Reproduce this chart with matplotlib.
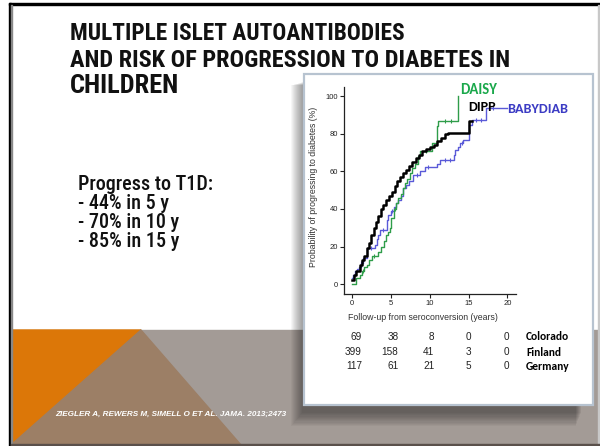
import matplotlib
matplotlib.use('Agg')
import numpy as np
import matplotlib.pyplot as plt
from matplotlib.patches import Rectangle, Polygon
from matplotlib import font_manager

avail = {f.name for f in font_manager.fontManager.ttflist}
def pick(cands):
    for n in cands:
        if n in avail:
            return n
    return 'DejaVu Sans'

NARROW = pick(['Liberation Sans Narrow', 'Roboto Condensed', 'Arial Narrow', 'Liberation Sans'])
SANS = pick(['Liberation Sans', 'Arimo', 'DejaVu Sans'])
CAL = pick(['Carlito', 'Lato', 'Open Sans'])

# ---------------- data ----------------
title_lines = ["MULTIPLE ISLET AUTOANTIBODIES",
               "AND RISK OF PROGRESSION TO DIABETES IN",
               "CHILDREN"]
bullet_lines = ["Progress to T1D:", "- 44% in 5 y", "- 70% in 10 y", "- 85% in 15 y"]
citation = "ZIEGLER A, REWERS M, SIMELL O ET AL. JAMA. 2013;2473"

x_ticks = [0, 5, 10, 15, 20]
y_ticks = [0, 20, 40, 60, 80, 100]
x_label = "Follow-up from seroconversion (years)"
y_label = "Probability of progressing to diabetes (%)"

dipp_t = [0, 0.3, 0.6, 1.0, 1.3, 1.6, 1.9, 2.2, 2.5, 2.8, 3.1, 3.4, 3.7, 4.0, 4.4, 4.8,
          5.2, 5.5, 5.8, 6.2, 6.6, 7.0, 7.4, 7.8, 8.2, 8.6, 9.0, 9.5, 10.0, 10.5, 11.0,
          11.5, 12.0, 12.4, 15.0, 15.5]
dipp_p = [2, 5, 7, 10, 13, 15, 19, 22, 26, 30, 33, 36, 40, 42, 45, 47,
          49, 52, 55, 57, 59, 61, 63, 65, 67, 69, 71, 72, 73, 74, 76,
          78, 80, 80.5, 87, 87]

daisy_t = [0, 0.6, 1.0, 1.3, 1.6, 1.9, 2.2, 2.6, 3.4, 3.8, 4.1, 4.4, 4.7, 4.9, 5.1, 5.4,
           5.7, 6.0, 6.3, 6.6, 6.9, 7.1, 7.5, 7.8, 8.1, 8.5, 8.8, 10.3, 10.9, 11.0, 11.1, 13.6]
daisy_p = [0, 3, 5, 7, 9, 10, 13, 15, 17, 20, 23, 26, 28, 30, 35, 40,
           43, 46, 48, 51, 54, 56, 59, 62, 64, 68, 71, 75, 80, 84, 87, 100]
daisy_censor = [1.5, 2.9, 5.6, 9.5, 12.0, 12.8]

baby_t = [0, 0.2, 0.45, 0.7, 0.9, 1.2, 1.5, 1.9, 3.0, 3.2, 3.4, 3.6, 4.5, 4.7, 5.1, 5.4,
          5.7, 6.0, 6.3, 6.6, 7.0, 7.3, 7.9, 8.8, 9.4, 10.9, 11.3, 13.1, 13.3, 13.6, 13.9,
          14.3, 15.0, 15.4, 17.3, 19.9]
baby_p = [3, 5, 7, 8, 9, 11, 14, 19, 21, 24, 26, 29, 34, 37, 39, 41,
          43, 45, 47, 51, 53, 55, 58, 60, 62.5, 64, 66, 69, 71.5, 73, 75,
          77, 85, 87.5, 94, 94]
baby_censor = [1.2, 2.5, 4.0, 5.2, 8.4, 9.8, 12.0, 12.6, 14.1, 15.9, 16.6, 18.2]

risk_labels = ["Colorado", "Finland", "Germany"]
risk_counts = [[69, 38, 8, 0, 0],
               [399, 158, 41, 3, 0],
               [117, 61, 21, 5, 0]]

# ---------------- figure ----------------
W, H = 600, 446
fig = plt.figure(figsize=(W / 100, H / 100), dpi=100)
fig.patch.set_facecolor('white')

bg = fig.add_axes([0, 0, 1, 1], zorder=0)
bg.set_xlim(0, W)
bg.set_ylim(H, 0)
bg.axis('off')

bg.add_patch(Rectangle((0, 0), W, H, color='white', zorder=0))
bg.add_patch(Rectangle((11, 330), 588, 115, color='#a39b96', zorder=1))
bg.add_patch(Polygon([(11, 330), (141, 330), (11, 445)], closed=True, color='#dc7708', zorder=2))
bg.add_patch(Polygon([(141, 330), (241, 445), (11, 445)], closed=True, color='#9c7f66', zorder=2))
bg.add_patch(Rectangle((9, 3), 591, 2.2, color='black', zorder=5))
bg.add_patch(Rectangle((9, 3), 2.2, 443, color='black', zorder=5))
bg.add_patch(Rectangle((11.2, 5), 1.0, 441, color='#888888', zorder=5))
bg.add_patch(Rectangle((598, 5), 1.2, 441, color='#c8c8c8', zorder=5))
bg.add_patch(Rectangle((11, 443.5), 589, 2.5, color='#5a504b', zorder=5))

# inset shadow
bx0, by0, bx1, by1 = 304, 74, 593, 405
for k in range(12):
    bg.add_patch(Rectangle((bx0 - 2 - k, by0 + 8 + k * 0.3), (bx1 - bx0) - 10 + k * 0.5,
                           (by1 - by0) + k * 0.9,
                           color='black', alpha=0.035, lw=0, zorder=6))
bg.add_patch(Rectangle((bx0, by0), bx1 - bx0, by1 - by0, facecolor='white',
                       edgecolor='#b7c3d0', lw=1.6, zorder=7))

# title
title_base = [40, 67, 93]
title_objs = []
for s, yb in zip(title_lines, title_base):
    title_objs.append(bg.text(70, yb, s, fontsize=14, fontweight='bold', family=NARROW,
                              color='#111111', va='baseline', ha='left', zorder=8))

bullet_base = [190, 209, 228, 247]
bullet_objs = []
for s, yb in zip(bullet_lines, bullet_base):
    bullet_objs.append(bg.text(78, yb, s, fontsize=12, family=NARROW, fontweight='medium',
                               color='#111111', va='baseline', ha='left', zorder=8))

cit = bg.text(55, 416, citation, fontsize=5.5, fontweight='bold', fontstyle='italic',
              family=SANS, color='white', va='baseline', ha='left', zorder=8)

# ---------------- chart ----------------
ax_l, ax_r, ax_t, ax_b = 344, 516, 87, 294
ax = fig.add_axes([ax_l / W, 1 - ax_b / H, (ax_r - ax_l) / W, (ax_b - ax_t) / H], zorder=10)
ax.patch.set_alpha(0)
ax.set_xlim(-1, 21.1)
ax.set_ylim(-5.3, 105)
for sp in ['top', 'right']:
    ax.spines[sp].set_visible(False)
for sp in ['left', 'bottom']:
    ax.spines[sp].set_linewidth(0.9)
    ax.spines[sp].set_color('#222222')
ax.set_xticks(x_ticks)
ax.set_yticks(y_ticks)
ax.tick_params(length=3, width=0.8, labelsize=5.5, colors='#222222', pad=1.5)
for lab in ax.get_xticklabels() + ax.get_yticklabels():
    lab.set_family(SANS)
ax.set_xlabel(x_label, fontsize=6.3, family=SANS, color='#333333')
ax.set_ylabel(y_label, fontsize=6.3, family=SANS, color='#333333')
ax.xaxis.set_label_coords((423 - ax_l) / (ax_r - ax_l), -(313 - ax_b) / (ax_b - ax_t))
ax.yaxis.set_label_coords(-(ax_l - 318) / (ax_r - ax_l), (ax_b - 187) / (ax_b - ax_t))

def stepval(ts, ps, x):
    i = np.searchsorted(ts, x, side='right') - 1
    return np.asarray(ps)[i]

c_green = '#2f9d4a'
c_blue = '#5a5ad8'
ax.step(baby_t, baby_p, where='post', color=c_blue, lw=1.0, zorder=3)
ax.plot(baby_censor, stepval(baby_t, baby_p, baby_censor), ls='none', marker='|',
        ms=2.5, mew=0.8, color=c_blue, zorder=3)
ax.step(daisy_t, daisy_p, where='post', color=c_green, lw=1.0, zorder=4)
ax.plot(daisy_censor, stepval(daisy_t, daisy_p, daisy_censor), ls='none', marker='|',
        ms=2.5, mew=0.8, color=c_green, zorder=4)
ax.step(dipp_t, dipp_p, where='post', color='black', lw=1.8, zorder=5)

leg = []
leg.append(ax.text(13.9, 103.5, "DAISY", color='#1aa84b', fontsize=9, fontweight='bold',
                   family=CAL, va='center', ha='left', clip_on=False))
leg.append(ax.text(14.95, 94.6, "DIPP", color='black', fontsize=9, fontweight='bold',
                   family=CAL, va='center', ha='left', clip_on=False))
leg.append(ax.text(20.0, 93.5, "BABYDIAB", color='#3c3cc4', fontsize=9, fontweight='bold',
                   family=CAL, va='center', ha='left', clip_on=False))

# numbers at risk
row_y = [337, 352, 366]
col_nudge = [1.3, 1.0, 0.6, 0.3, 0.2]
xt = ax.get_xaxis_transform()
num_objs = []
lab_objs = []
for r, counts in enumerate(risk_counts):
    yy = -(row_y[r] - ax_b) / (ax_b - ax_t)
    for c, v in enumerate(counts):
        num_objs.append(ax.text(x_ticks[c] + col_nudge[c], yy, str(v), transform=xt,
                                ha='right', va='center', fontsize=6.8, family=SANS,
                                color='#222222', clip_on=False))
    lab_objs.append(ax.text(22.4, yy, risk_labels[r], transform=xt, ha='left', va='center',
                            fontsize=7.2, family=CAL, fontweight='bold', color='black',
                            clip_on=False))

# fit text widths to reference
fig.canvas.draw()
rend = fig.canvas.get_renderer()
def fit(t, target):
    w = t.get_window_extent(rend).width
    if w > 0:
        t.set_fontsize(t.get_fontsize() * target / w)

for t, tw in zip(title_objs, [335, 442, 110]):
    fit(t, tw)
fit(bullet_objs[0], 135)
fs = bullet_objs[0].get_fontsize()
for t in bullet_objs[1:]:
    t.set_fontsize(fs)
fit(cit, 233)
for t, tw in zip(leg, [37, 28, 61]):
    fit(t, tw)
fit(num_objs[5], 17)
fs = num_objs[5].get_fontsize()
for t in num_objs:
    t.set_fontsize(fs)
fit(lab_objs[0], 43)
fs = lab_objs[0].get_fontsize()
for t in lab_objs:
    t.set_fontsize(fs)

fig.savefig('out.png', dpi=100)
